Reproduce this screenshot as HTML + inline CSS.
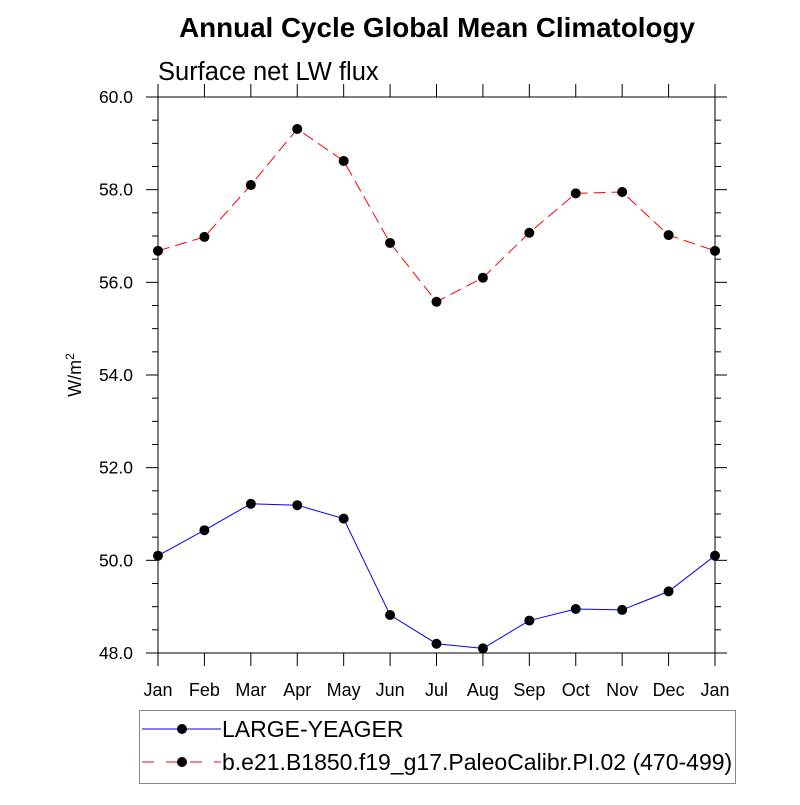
<!DOCTYPE html>
<html><head><meta charset="utf-8"><style>
body{margin:0;background:#fff}
svg{font-family:"Liberation Sans",sans-serif}
</style></head><body>
<svg id="chart" width="800" height="800">
<text x="437" y="37" text-anchor="middle" font-size="27.8" font-weight="bold">Annual Cycle Global Mean Climatology</text>
<text x="158" y="80" font-size="25.5">Surface net LW flux</text>
<g id="axes"></g>
<g id="series"></g>
<rect x="139.5" y="710.5" width="596" height="73" fill="none" stroke="#888" stroke-width="1"/>
<g id="legend"></g>
</svg>
<script>
const months=["Jan","Feb","Mar","Apr","May","Jun","Jul","Aug","Sep","Oct","Nov","Dec","Jan"];
const yTicks=[48,50,52,54,56,58,60];
const largeYeager=[50.1,50.65,51.22,51.19,50.9,48.82,48.2,48.1,48.7,48.95,48.93,49.33,50.1];
const paleoCalibr=[56.68,56.98,58.1,59.31,58.62,56.85,55.58,56.1,57.07,57.92,57.95,57.02,56.68];
const X0=158,X1=715,Y0=653,Y1=97,YMIN=48,YMAX=60;
const NS="http://www.w3.org/2000/svg";
function xs(i){return X0+(X1-X0)*i/(months.length-1);}
function ys(v){return Y0-(Y0-Y1)*(v-YMIN)/(YMAX-YMIN);}
function mk(tag,attrs,parent){const e=document.createElementNS(NS,tag);for(const k in attrs)e.setAttribute(k,attrs[k]);parent.appendChild(e);return e;}
const ax=document.getElementById('axes');
const frame=mk('rect',{x:X0,y:Y1,width:X1-X0,height:Y0-Y1,fill:'none',stroke:'#000','stroke-width':1},ax);


for(let v=YMIN;v<=YMAX+1e-9;v+=0.5){
  const y=ys(v),major=Math.abs(v%2)<1e-9,len=major?12:6;
  const t1=mk('line',{x1:X0,x2:X0-len,y1:y,y2:y,stroke:'#000'},ax);
  
  
  const t2=mk('line',{x1:X1,x2:X1+len,y1:y,y2:y,stroke:'#000'},ax);
  
  
}
yTicks.forEach(v=>{
  const t=mk('text',{x:X0-25,y:ys(v)+6,'text-anchor':'end','font-size':17.5},ax);
  t.textContent=v.toFixed(1);
  
  
});
months.forEach((m,i)=>{
  const x=xs(i);
  const a=mk('line',{x1:x,x2:x,y1:Y0,y2:Y0+13,stroke:'#000'},ax);
  
  
  const b=mk('line',{x1:x,x2:x,y1:Y1,y2:Y1-13,stroke:'#000'},ax);
  
  
  const t=mk('text',{x:x,y:Y0+43,'text-anchor':'middle','font-size':18},ax);
  t.textContent=m;
  
  
});
const yt=mk('text',{transform:'translate(81,375) rotate(-90)','text-anchor':'middle','font-size':18},ax);
yt.innerHTML='W/m<tspan dy="-7" font-size="12">2</tspan>';


const sg=document.getElementById('series');
function drawSeries(vals,color,dash,name){
  const pts=vals.map((v,i)=>xs(i)+','+ys(v)).join(' ');
  const l=mk('polyline',{points:pts,fill:'none',stroke:color,'stroke-width':1,'stroke-dasharray':dash},sg);
  
  
  vals.forEach((v,i)=>{
    const c=mk('circle',{cx:xs(i),cy:ys(v),r:5,fill:'#000'},sg);
    
    
  });
}
drawSeries(largeYeager,'#0000ff','none','large-yeager');
drawSeries(paleoCalibr,'#ff0000','12,6','paleocalibr');
const lg=document.getElementById('legend');
function legendEntry(y,color,dash,label,name){
  const l=mk('line',{x1:142,x2:221,y1:y,y2:y,stroke:color,'stroke-dasharray':dash},lg);
  
  
  const c=mk('circle',{cx:182,cy:y,r:5,fill:'#000'},lg);
  
  
  const t=mk('text',{x:222,y:y+8,'font-size':23},lg);
  t.textContent=label;
  
  
}
legendEntry(729,'#0000ff','none','LARGE-YEAGER','large-yeager');
legendEntry(762,'#ff0000','12,12','b.e21.B1850.f19_g17.PaleoCalibr.PI.02 (470-499)','paleocalibr');
</script>
</body></html>
